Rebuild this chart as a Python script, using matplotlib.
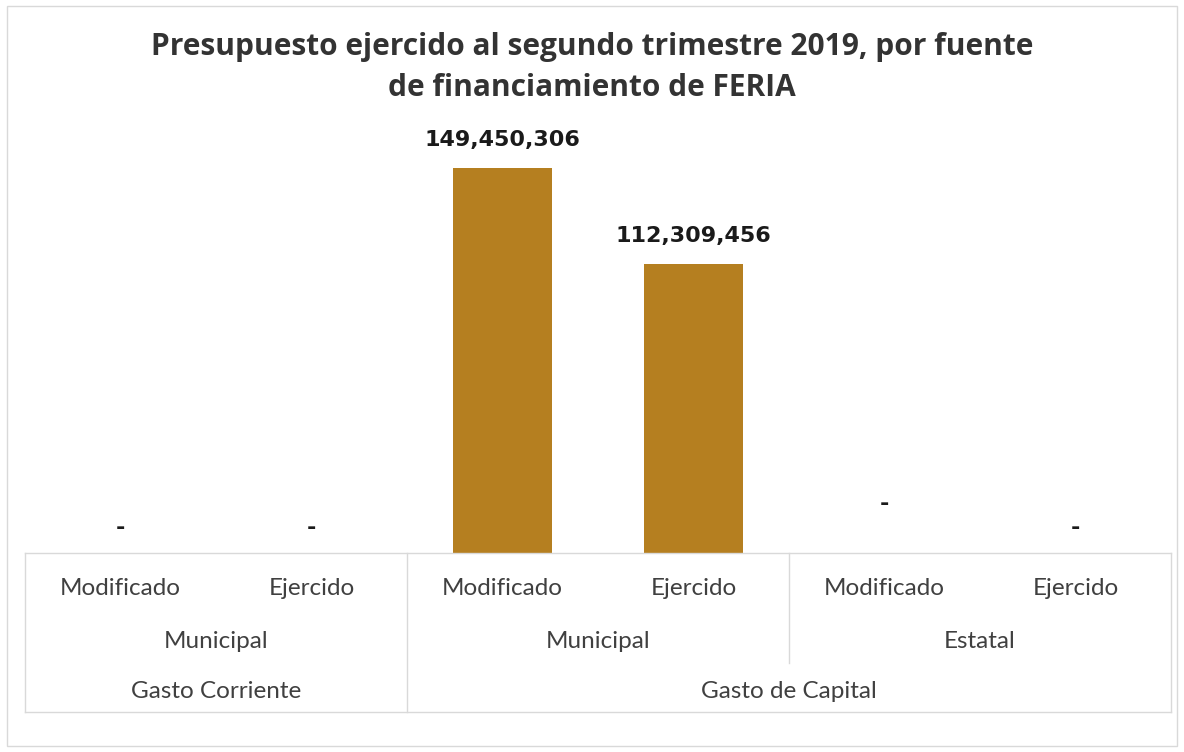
import matplotlib.pyplot as plt
from matplotlib.patches import Rectangle
import matplotlib.transforms as mtransforms

# data
categorias = ['Modificado', 'Ejercido', 'Modificado', 'Ejercido', 'Modificado', 'Ejercido']
fuentes = ['Municipal', 'Municipal', 'Estatal']
fuente_span = [(0, 1), (2, 3), (4, 5)]
gastos = ['Gasto Corriente', 'Gasto de Capital']
gasto_span = [(0, 1), (2, 5)]
valores = [0, 0, 149450306, 112309456, 0, 0]

color_barra = '#B57F20'
gris = '#d9d9d9'

fig = plt.figure(figsize=(11.84, 7.52), dpi=100)
ax = fig.add_axes([25 / 1184, 199 / 752, 1146 / 1184, 412 / 752])

x = list(range(len(categorias)))
bars = ax.bar(x, valores, width=0.52, color=color_barra, zorder=2)

ax.set_xlim(-0.5, 5.5)
ax.set_ylim(0, 160e6)
ax.set_xticks([])
ax.set_yticks([])
for s in ['left', 'right', 'bottom', 'top']:
    ax.spines[s].set_visible(False)

# data labels
for i, (b, v) in enumerate(zip(bars, valores)):
    if v > 0:
        txt, off = f'{v:,.0f}', 13
    else:
        txt, off = '-', 11
        if i == 4:
            off = 28  # that one sits higher in the reference
    ax.annotate(txt, (b.get_x() + b.get_width() / 2, v), xytext=(0, off),
                textcoords='offset points', ha='center', va='bottom',
                fontsize=16, fontweight='bold', family='DejaVu Sans', color='#1a1a1a')

# multi level category axis
tr = mtransforms.blended_transform_factory(ax.transData, ax.transAxes)
lab_kw = dict(transform=tr, ha='center', va='center', fontsize=17.5,
              family='Lato', color='#404040', clip_on=False)
for xi, c in zip(x, categorias):
    ax.text(xi, -0.085, c, **lab_kw)
for (a, b), f in zip(fuente_span, fuentes):
    ax.text((a + b) / 2, -0.214, f, **lab_kw)
for (a, b), g in zip(gasto_span, gastos):
    ax.text((a + b) / 2, -0.337, g, **lab_kw)

line_kw = dict(transform=tr, color=gris, lw=1, clip_on=False)
bottom = -0.386
ax.plot([-0.5, 5.5], [0, 0], **line_kw)
ax.plot([-0.5, 5.5], [bottom, bottom], **line_kw)
ax.plot([-0.5, -0.5], [0, bottom], **line_kw)
ax.plot([5.5, 5.5], [0, bottom], **line_kw)
ax.plot([1.5, 1.5], [0, bottom], **line_kw)
ax.plot([3.5, 3.5], [0, -0.267], **line_kw)

fig.suptitle('Presupuesto ejercido al segundo trimestre 2019, por fuente\nde financiamiento de FERIA',
             y=0.958, fontsize=21.5, fontweight='bold', family='Open Sans',
             color='#333333', linespacing=1.5)

fig.patches.append(Rectangle((0.006, 0.008), 0.988, 0.984, transform=fig.transFigure,
                             fill=False, edgecolor=gris, lw=1))

fig.savefig('out.png', dpi=100)
